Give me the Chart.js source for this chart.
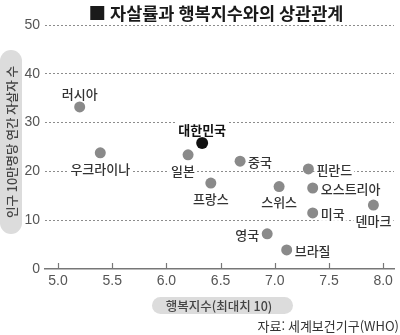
<!DOCTYPE html>
<html lang="ko">
<head>
<meta charset="utf-8">
<script src="https://cdn.jsdelivr.net/npm/chart.js@4.4.1/dist/chart.umd.min.js"></script>
<style>
  html, body { margin: 0; padding: 0; background: #fff; }
</style>
</head>
<body>
<canvas id="chart" width="400" height="335"></canvas>
<script>
// 국가별 행복지수(x)와 인구 10만명당 자살자 수(y)
const countries = ['러시아', '우크라이나', '일본', '대한민국', '중국', '핀란드', '프랑스', '스위스', '오스트리아', '미국', '덴마크', '영국', '브라질'];
const happiness = [5.20, 5.39, 6.20, 6.33, 6.68, 7.31, 6.41, 7.04, 7.35, 7.35, 7.91, 6.93, 7.11];
const suicideRate = [33.2, 23.8, 23.4, 25.8, 22.1, 20.5, 17.6, 16.9, 16.6, 11.5, 13.1, 7.2, 3.9];
const xTicks = [5.0, 5.5, 6.0, 6.5, 7.0, 7.5, 8.0];
const yTicks = [0, 10, 20, 30, 40, 50];
const highlight = '대한민국';

// 라벨 위치: [방향, x 보정]
const labelSide = {
  '러시아': ['top', 0], '우크라이나': ['bottom', 0], '일본': ['bottom', -5],
  '대한민국': ['top', 0], '중국': ['right', 0], '핀란드': ['right', 0],
  '프랑스': ['bottom', 0], '스위스': ['bottom', 0], '오스트리아': ['right', 0],
  '미국': ['right', 0], '덴마크': ['bottom', 0], '영국': ['left', 0], '브라질': ['right', 0]
};

const KR = '"Noto Sans CJK KR", "Noto Sans", sans-serif';
const NUM = '"Liberation Sans Narrow", "Liberation Sans", sans-serif';

function pill(ctx, x, y, w, h) {
  const r = Math.min(w, h) / 2;
  ctx.beginPath();
  ctx.roundRect(x, y, w, h, r);
  ctx.fill();
}

const decor = {
  id: 'decor',
  beforeDraw(chart) {
    const ctx = chart.ctx;
    ctx.save();
    ctx.fillStyle = '#dcdcdc';
    pill(ctx, 0, 50, 22, 184);
    pill(ctx, 152, 297, 141, 17);
    ctx.restore();
  },
  afterDatasetsDraw(chart) {
    const ctx = chart.ctx;
    const pts = chart.getDatasetMeta(0).data;
    ctx.save();
    ctx.textBaseline = 'middle';
    pts.forEach((p, i) => {
      const name = countries[i];
      const [side, dx] = labelSide[name];
      ctx.font = (name === highlight ? 'bold 13px ' : '500 13px ') + KR;
      const w = ctx.measureText(name).width;
      let cx = p.x + dx, cy = p.y;
      if (side === 'top') cy -= 14;
      else if (side === 'bottom') cy += 15;
      else if (side === 'right') cx += 8 + w / 2;
      else cx -= 8 + w / 2;
      ctx.fillStyle = '#fff';
      ctx.fillRect(cx - w / 2 - 2, cy - 8, w + 4, 16);
      ctx.fillStyle = name === highlight ? '#111' : '#333';
      ctx.textAlign = 'center';
      ctx.fillText(name, cx, cy + 1);
    });
    ctx.restore();
  },
  afterDraw(chart) {
    const ctx = chart.ctx;
    const area = chart.chartArea;
    const xs = chart.scales.x;
    ctx.save();

    // x축 눈금 (위쪽으로)
    ctx.strokeStyle = '#777';
    ctx.lineWidth = 1.2;
    xs.ticks.forEach(t => {
      const px = Math.round(xs.getPixelForValue(t.value)) + 0.5;
      ctx.beginPath();
      ctx.moveTo(px, area.bottom);
      ctx.lineTo(px, area.bottom - 6);
      ctx.stroke();
    });

    ctx.textBaseline = 'middle';
    ctx.textAlign = 'center';
    ctx.fillStyle = '#1a1a1a';
    ctx.font = 'bold 17.5px ' + KR;
    ctx.fillText('■ 자살률과 행복지수와의 상관관계', 216, 13);

    ctx.fillStyle = '#444';
    ctx.font = '500 12.5px ' + KR;
    ctx.fillText('행복지수(최대치 10)', 219, 306);

    ctx.fillStyle = '#333';
    ctx.font = '13px ' + KR;
    ctx.textAlign = 'right';
    ctx.fillText('자료: 세계보건기구(WHO)', 399, 326);

    ctx.translate(11, 142);
    ctx.rotate(-Math.PI / 2);
    ctx.textAlign = 'center';
    ctx.fillStyle = '#444';
    ctx.font = '500 12.5px ' + KR;
    ctx.fillText('인구 10만명당 연간 자살자 수', 0, 1);
    ctx.restore();
  }
};

new Chart(document.getElementById('chart'), {
  type: 'scatter',
  data: {
    datasets: [{
      data: countries.map((c, i) => ({ x: happiness[i], y: suicideRate[i] })),
      backgroundColor: countries.map(c => c === highlight ? '#111' : '#8a8a8a'),
      pointRadius: countries.map(c => c === highlight ? 6 : 5.5),
      borderWidth: 0
    }]
  },
  options: {
    responsive: false,
    animation: false,
    devicePixelRatio: 1,
    layout: { padding: { top: 25, right: 1, bottom: 0, left: 0 } },
    plugins: {
      legend: { display: false },
      tooltip: { enabled: false }
    },
    scales: {
      x: {
        type: 'linear',
        min: 4.88,
        max: 8.1,
        afterBuildTicks: s => { s.ticks = xTicks.map(v => ({ value: v })); },
        afterFit: s => { s.height = 66; },
        grid: { display: false },
        border: { display: true, color: '#777', width: 1.5 },
        ticks: {
          padding: -4,
          color: '#555',
          font: { family: NUM, size: 14 },
          callback: v => v.toFixed(1)
        }
      },
      y: {
        min: 0,
        max: 50,
        afterBuildTicks: s => { s.ticks = yTicks.map(v => ({ value: v })); },
        afterFit: s => { s.width = 45; },
        border: { display: false, dash: [2, 2] },
        grid: {
          drawTicks: false,
          color: c => c.tick && c.tick.value === 0 ? 'transparent' : '#8c8c8c',
          lineWidth: 1
        },
        ticks: {
          padding: 5,
          color: '#555',
          font: { family: NUM, size: 14 }
        }
      }
    }
  },
  plugins: [decor]
});
</script>
</body>
</html>
